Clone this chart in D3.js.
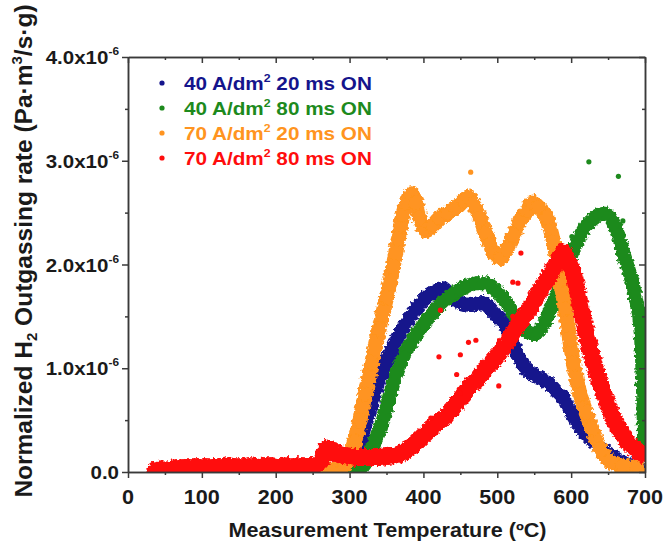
<!DOCTYPE html>
<html>
<head>
<meta charset="utf-8">
<script src="https://cdn.jsdelivr.net/npm/d3@7"></script>
<style>
  body { margin: 0; background: #fff; }
  svg { display: block; }
  text { font-family: "Liberation Sans", Arial, sans-serif; font-weight: bold; }
</style>
</head>
<body>
<svg id="chart" width="666" height="545"></svg>
<script>
// Normalized H2 outgassing rate vs. measurement temperature.
// Rates are in units of 10^-6 Pa·m³/(s·g); temperatures in °C.

const tempTicks = [0, 100, 200, 300, 400, 500, 600, 700];
const tempMinor = [50, 150, 250, 350, 450, 550, 650];
const rateTicks = [0, 1, 2, 3, 4];
const rateMinor = [0.5, 1.5, 2.5, 3.5];
const rateTickLabels = ["0.0", "1.0x10", "2.0x10", "3.0x10", "4.0x10"];
const rateTickExp = ["", "-6", "-6", "-6", "-6"];

const seriesNames = [
  "40 A/dm|2| 20 ms ON",
  "40 A/dm|2| 80 ms ON",
  "70 A/dm|2| 20 ms ON",
  "70 A/dm|2| 80 ms ON"
];

// 40 A/dm2, 20 ms ON
const blueT = [270, 285, 295, 302, 308, 315, 321, 327, 335, 343, 352, 361, 370, 380, 391, 402, 413, 425, 436, 450, 465, 480, 490, 500, 507, 513, 522, 531, 538, 545, 553, 562, 572, 581, 590, 598, 607, 616, 625, 635, 646, 657, 668, 680, 692];
const blueV = [0.00, 0.01, 0.03, 0.06, 0.15, 0.30, 0.45, 0.58, 0.78, 0.95, 1.10, 1.24, 1.36, 1.47, 1.58, 1.67, 1.73, 1.77, 1.70, 1.63, 1.61, 1.63, 1.58, 1.50, 1.45, 1.38, 1.22, 1.08, 1.00, 0.96, 0.92, 0.89, 0.84, 0.77, 0.70, 0.60, 0.49, 0.40, 0.33, 0.27, 0.20, 0.15, 0.10, 0.06, 0.04];

// 40 A/dm2, 80 ms ON
const greenT = [290, 300, 310, 318, 325, 333, 342, 350, 357, 364, 372, 381, 392, 402, 413, 425, 437, 450, 462, 472, 482, 492, 500, 508, 517, 525, 533, 541, 549, 557, 566, 575, 583, 589, 594, 600, 607, 614, 621, 630, 639, 645, 652, 658, 664, 670, 677, 684, 689, 693, 696, 698, 699];
const greenV = [0.00, 0.01, 0.02, 0.05, 0.12, 0.28, 0.43, 0.62, 0.80, 0.96, 1.10, 1.22, 1.34, 1.44, 1.54, 1.63, 1.70, 1.76, 1.80, 1.82, 1.82, 1.79, 1.74, 1.67, 1.58, 1.48, 1.40, 1.35, 1.33, 1.36, 1.47, 1.62, 1.75, 1.86, 1.96, 2.08, 2.20, 2.30, 2.38, 2.44, 2.48, 2.49, 2.46, 2.39, 2.28, 2.13, 1.97, 1.80, 1.62, 1.45, 1.10, 0.60, 0.20];
const greenOutT = [624, 664, 601, 670];
const greenOutV = [2.99, 2.85, 2.27, 2.42];

// 70 A/dm2, 20 ms ON
const orangeT = [262, 272, 285, 293, 300, 307, 314, 321, 330, 340, 350, 359, 366, 372, 378, 384, 390, 395, 404, 413, 422, 433, 445, 455, 461, 468, 477, 484, 490, 497, 504, 513, 522, 531, 540, 548, 556, 567, 576, 581, 585, 592, 598, 603, 612, 620, 628, 640, 653, 670, 690];
const orangeV = [0.02, 0.03, 0.03, 0.06, 0.15, 0.30, 0.50, 0.75, 1.05, 1.38, 1.68, 1.98, 2.25, 2.48, 2.60, 2.68, 2.60, 2.45, 2.33, 2.38, 2.45, 2.50, 2.55, 2.62, 2.65, 2.58, 2.45, 2.30, 2.19, 2.10, 2.06, 2.15, 2.28, 2.42, 2.52, 2.60, 2.55, 2.45, 2.22, 2.05, 1.86, 1.57, 1.28, 1.05, 0.75, 0.58, 0.42, 0.22, 0.10, 0.06, 0.04];
const orangeOutT = [464];
const orangeOutV = [2.89];

// 70 A/dm2, 80 ms ON
const redT = [38, 45, 55, 65, 75, 85, 95, 105, 115, 125, 135, 145, 155, 165, 175, 185, 195, 205, 215, 225, 235, 245, 255, 262, 266, 270, 275, 280, 285, 292, 300, 310, 320, 330, 341, 350, 360, 370, 377, 385, 393, 400, 409, 418, 426, 432, 440, 447, 454, 462, 470, 477, 485, 493, 500, 508, 515, 522, 530, 537, 544, 551, 558, 565, 571, 577, 581, 585, 589, 593, 597, 603, 608, 612, 617, 621, 628, 635, 642, 648, 655, 660, 666, 672, 678, 684, 690, 697];
const redV = [0.02, 0.03, 0.03, 0.04, 0.04, 0.05, 0.05, 0.05, 0.05, 0.05, 0.06, 0.05, 0.05, 0.06, 0.05, 0.06, 0.06, 0.05, 0.06, 0.06, 0.06, 0.06, 0.07, 0.12, 0.20, 0.23, 0.22, 0.19, 0.17, 0.16, 0.15, 0.14, 0.14, 0.14, 0.14, 0.15, 0.16, 0.18, 0.21, 0.25, 0.30, 0.35, 0.41, 0.46, 0.51, 0.55, 0.62, 0.68, 0.74, 0.82, 0.87, 0.93, 1.00, 1.06, 1.12, 1.20, 1.27, 1.35, 1.44, 1.51, 1.58, 1.66, 1.75, 1.83, 1.90, 1.97, 2.02, 2.08, 2.12, 2.08, 2.02, 1.92, 1.76, 1.62, 1.46, 1.32, 1.12, 0.95, 0.80, 0.68, 0.56, 0.48, 0.40, 0.33, 0.28, 0.24, 0.20, 0.17];
const redOutT = [532, 521, 528, 423, 521, 461, 471, 421, 450, 445, 502, 450, 410];
const redOutV = [2.11, 1.83, 1.82, 1.56, 1.50, 1.25, 1.27, 1.11, 1.13, 0.94, 0.83, 0.76, 0.52];

const colors = ["#14148c", "#1d8a1d", "#ff9420", "#ff0d0d"];
const bandWidth = [14, 14, 15, 17];

const series = [
  { T: blueT, V: blueV, outT: [], outV: [] },
  { T: greenT, V: greenV, outT: greenOutT, outV: greenOutV },
  { T: orangeT, V: orangeV, outT: orangeOutT, outV: orangeOutV },
  { T: redT, V: redV, outT: redOutT, outV: redOutV }
];

const W = 666, H = 545;
const margin = { top: 57, right: 21, bottom: 73, left: 128 };
const svg = d3.select("#chart");

const x = d3.scaleLinear().domain([0, 700]).range([margin.left, W - margin.right]);
const y = d3.scaleLinear().domain([0, 4]).range([H - margin.bottom, margin.top]);

const defs = svg.append("defs");
defs.append("clipPath").attr("id", "plotClip")
  .append("rect")
  .attr("x", x(0)).attr("y", y(4))
  .attr("width", x(700) - x(0)).attr("height", y(0) - y(4));

// grainy edge for the dense scatter bands
const rough = defs.append("filter").attr("id", "rough")
  .attr("filterUnits", "userSpaceOnUse")
  .attr("x", 0).attr("y", 0).attr("width", W).attr("height", H);
rough.append("feTurbulence").attr("type", "fractalNoise")
  .attr("baseFrequency", 0.3).attr("numOctaves", 2).attr("seed", 7).attr("result", "noise");
rough.append("feDisplacementMap").attr("in", "SourceGraphic").attr("in2", "noise")
  .attr("scale", 6).attr("xChannelSelector", "R").attr("yChannelSelector", "G");

const plot = svg.append("g").attr("clip-path", "url(#plotClip)");

const line = d3.line()
  .x(d => x(d[0]))
  .y(d => y(d[1]))
  .curve(d3.curveMonotoneX);

series.forEach((s, i) => {
  const pts = s.T.map((t, k) => [t, s.V[k]]);
  const g = plot.append("g").attr("filter", "url(#rough)");
  g.append("path")
    .datum(pts)
    .attr("d", line)
    .attr("fill", "none")
    .attr("stroke", colors[i])
    .attr("stroke-width", bandWidth[i])
    .attr("stroke-linecap", "round")
    .attr("stroke-linejoin", "round");
  g.selectAll("circle.pt")
    .data(pts)
    .join("circle")
    .attr("class", "pt")
    .attr("cx", d => x(d[0]))
    .attr("cy", d => y(d[1]))
    .attr("r", bandWidth[i] / 2)
    .attr("fill", colors[i]);
  plot.selectAll(null)
    .data(s.outT.map((t, k) => [t, s.outV[k]]))
    .join("circle")
    .attr("cx", d => x(d[0]))
    .attr("cy", d => y(d[1]))
    .attr("r", 2.6)
    .attr("fill", colors[i]);
});

// axes
const axisColor = "#3a3a3a";
function styleAxis(g) {
  g.select(".domain").attr("stroke", axisColor).attr("stroke-width", 1.5);
  g.selectAll(".tick line").attr("stroke", axisColor).attr("stroke-width", 1.5);
  g.selectAll(".tick text").remove();
}
const yBase = y(0), yTop = y(4), xLeft = x(0), xRight = x(700);

svg.append("g").attr("transform", `translate(0,${yBase})`)
  .call(d3.axisBottom(x).tickValues(tempTicks).tickSize(6).tickSizeOuter(0)).call(styleAxis);
svg.append("g").attr("transform", `translate(0,${yBase})`)
  .call(d3.axisBottom(x).tickValues(tempMinor).tickSize(3).tickSizeOuter(0)).call(styleAxis);
svg.append("g").attr("transform", `translate(0,${yTop})`)
  .call(d3.axisTop(x).tickValues(tempTicks).tickSize(-6).tickSizeOuter(0)).call(styleAxis);
svg.append("g").attr("transform", `translate(0,${yTop})`)
  .call(d3.axisTop(x).tickValues(tempMinor).tickSize(-3).tickSizeOuter(0)).call(styleAxis);
svg.append("g").attr("transform", `translate(${xLeft},0)`)
  .call(d3.axisLeft(y).tickValues(rateTicks).tickSize(6).tickSizeOuter(0)).call(styleAxis);
svg.append("g").attr("transform", `translate(${xLeft},0)`)
  .call(d3.axisLeft(y).tickValues(rateMinor).tickSize(3).tickSizeOuter(0)).call(styleAxis);
svg.append("g").attr("transform", `translate(${xRight},0)`)
  .call(d3.axisRight(y).tickValues(rateTicks).tickSize(-6).tickSizeOuter(0)).call(styleAxis);
svg.append("g").attr("transform", `translate(${xRight},0)`)
  .call(d3.axisRight(y).tickValues(rateMinor).tickSize(-3).tickSizeOuter(0)).call(styleAxis);

const textColor = "#1a1a1a";
const stretch = 1.08;

// x tick labels
svg.append("g").selectAll("text")
  .data(tempTicks)
  .join("text")
  .attr("transform", d => `translate(${x(d)},${yBase + 32}) scale(${stretch},1)`)
  .attr("text-anchor", "middle")
  .attr("font-size", 20)
  .attr("fill", textColor)
  .text(d => d);

// y tick labels with exponent
const yl = svg.append("g").selectAll("text")
  .data(rateTicks)
  .join("text")
  .attr("transform", d => `translate(${xLeft - 9},${y(d) + 7}) scale(${stretch},1)`)
  .attr("text-anchor", "end")
  .attr("font-size", 19)
  .attr("fill", textColor);
yl.append("tspan").text((d, i) => rateTickLabels[i]);
yl.append("tspan")
  .attr("dy", -9)
  .attr("font-size", 11)
  .text((d, i) => rateTickExp[i]);

// axis titles
svg.append("text")
  .attr("transform", `translate(${(xLeft + xRight) / 2 + 1},${H - 8}) scale(${stretch},1)`)
  .attr("text-anchor", "middle")
  .attr("font-size", 20)
  .attr("fill", textColor)
  .text("Measurement Temperature (ºC)");

const yt = svg.append("text")
  .attr("transform", `translate(32,251) rotate(-90)`)
  .attr("text-anchor", "middle")
  .attr("font-size", 24.5)
  .attr("fill", textColor);
yt.append("tspan").text("Normalized H");
yt.append("tspan").attr("font-size", 15).attr("dy", 5).text("2");
yt.append("tspan").attr("dy", -5).text(" Outgassing rate (Pa");
yt.append("tspan").text("·");
yt.append("tspan").text("m");
yt.append("tspan").attr("font-size", 15).attr("dy", -10).text("3");
yt.append("tspan").attr("dy", 10).text("/s");
yt.append("tspan").text("·");
yt.append("tspan").text("g)");

// legend
const legend = svg.append("g");
seriesNames.forEach((name, i) => {
  const ly = 83 + i * 25;
  legend.append("circle")
    .attr("cx", 162).attr("cy", ly).attr("r", 2.6).attr("fill", colors[i]);
  const parts = name.split("|");
  const t = legend.append("text")
    .attr("transform", `translate(184,${ly + 6.5}) scale(1.12,1)`)
    .attr("font-size", 18.5)
    .attr("fill", colors[i]);
  t.append("tspan").text(parts[0]);
  t.append("tspan").attr("font-size", 11).attr("dy", -8).text(parts[1]);
  t.append("tspan").attr("dy", 8).text(parts[2]);
});
</script>
</body>
</html>
